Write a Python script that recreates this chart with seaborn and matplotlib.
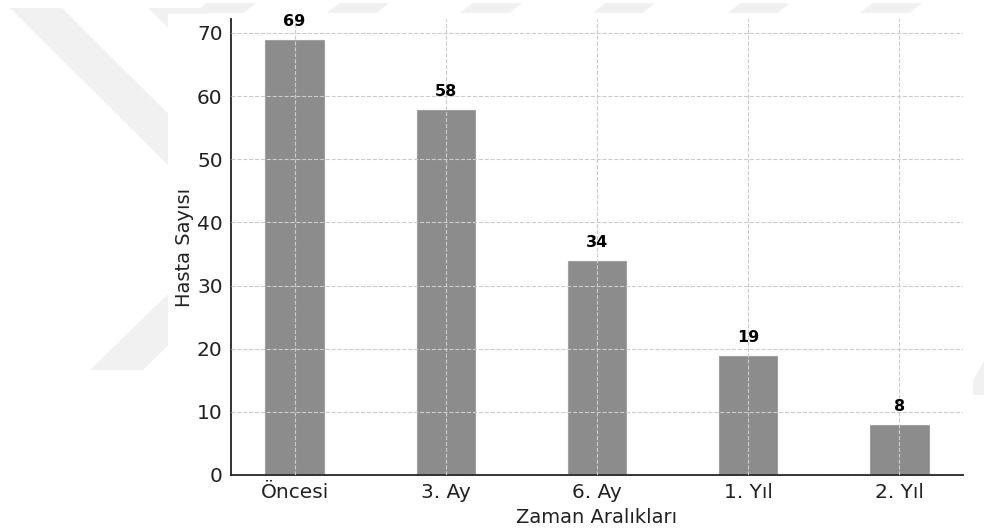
import matplotlib
matplotlib.use("Agg")
import matplotlib.pyplot as plt
from matplotlib.patches import Polygon, Rectangle
import seaborn as sns
import pandas as pd

# Patient counts over follow-up intervals
periods = ["Öncesi", "3. Ay", "6. Ay", "1. Yıl", "2. Yıl"]
patients = [69, 58, 34, 19, 8]

df = pd.DataFrame({"Zaman Aralıkları": periods, "Hasta Sayısı": patients})

sns.set_style("white")
plt.rcParams["font.family"] = ["DejaVu Sans"]

W, H = 984, 531
fig = plt.figure(figsize=(W / 100, H / 100), dpi=100)


def px(points):
    return [(x / W, 1 - y / H) for x, y in points]


# faint background page marks
mark_color = "#f1f1f1"
shapes = [
    [(10, 8), (62, 8), (260, 205), (208, 205)],
    [(148, 8), (202, 8), (400, 205), (348, 205)],
    [(90, 370), (143, 370), (260, 255), (208, 255)],
    [(965, 395), (990, 395), (990, 350)],
]
for x0 in [194, 327, 460, 593, 728, 860]:
    shapes.append([(x0, 13), (x0 + 50, 13), (x0 + 62, 3), (x0 + 12, 3)])
for s in shapes:
    fig.patches.append(Polygon(px(s), closed=True, transform=fig.transFigure,
                               facecolor=mark_color, edgecolor="none", zorder=0))

# white panel holding the chart
fig.patches.append(Rectangle((168 / W, 0), (973 - 168) / W, 1 - 14 / H,
                             transform=fig.transFigure, facecolor="white",
                             edgecolor="none", zorder=1))

ax = fig.add_axes([231 / W, 1 - 475 / H, (963 - 231) / W, (475 - 19) / H])
ax.set_facecolor("none")
ax.set_zorder(5)

sns.barplot(data=df, x="Zaman Aralıkları", y="Hasta Sayısı", color="gray",
            alpha=0.9, width=0.4, saturation=1, ax=ax)

for i, v in enumerate(patients):
    ax.text(i, v + 1.6, str(v), ha="center", va="bottom",
            fontsize=11.5, fontweight="bold", color="black")

ax.set_xlim(-0.42, 4.42)
ax.set_ylim(0, 72.2)
ax.set_yticks(range(0, 71, 10))

ax.grid(True, linestyle="--", color="#cccccc", linewidth=0.8)
ax.set_axisbelow(False)

for side in ["top", "right"]:
    ax.spines[side].set_visible(False)
for side in ["left", "bottom"]:
    ax.spines[side].set_color("#222222")
    ax.spines[side].set_linewidth(1.3)

ax.tick_params(axis="both", direction="in", length=5, width=1.2,
               colors="#222222", labelsize=14.5, pad=6, labelcolor="#222222")
ax.set_xlabel("Zaman Aralıkları", fontsize=14, color="#222222", labelpad=4)
ax.set_ylabel("Hasta Sayısı", fontsize=14, color="#222222", labelpad=2)

fig.savefig("out.png", dpi=100, facecolor="white")
